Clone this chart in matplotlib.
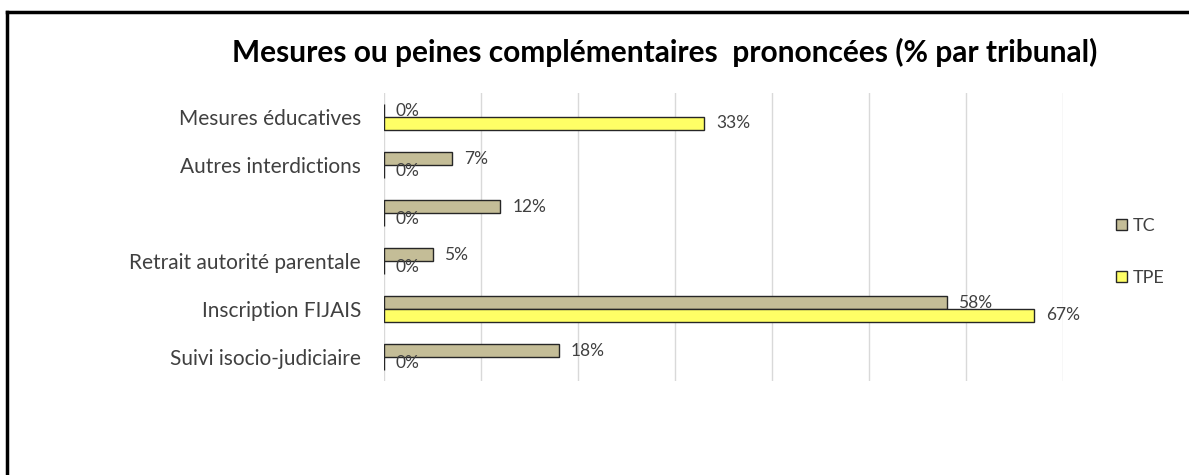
import matplotlib.pyplot as plt
from matplotlib.patches import Patch
import numpy as np

plt.rcParams['font.family'] = ['Lato', 'DejaVu Sans']

# Data
categories = ['Mesures éducatives', 'Autres interdictions', '', 'Retrait autorité parentale',
              'Inscription FIJAIS', 'Suivi isocio-judiciaire']
tc_values = [0, 7, 12, 5, 58, 18]
tpe_values = [33, 0, 0, 0, 67, 0]
series_names = ['TC', 'TPE']

tc_color = '#c4bd97'
tpe_color = '#ffff66'
text_color = '#404040'

fig = plt.figure(figsize=(11.89, 4.75), dpi=100)
ax = fig.add_axes([384 / 1189, 1 - 381 / 475, (1063 - 384) / 1189, (381 - 93) / 475])

y = np.arange(len(categories))
h = 0.27
bars_tc = ax.barh(y - h / 2, tc_values, height=h, color=tc_color, edgecolor='#262626', linewidth=1)
bars_tpe = ax.barh(y + h / 2, tpe_values, height=h, color=tpe_color, edgecolor='#262626', linewidth=1)

# value labels to the right of each bar
for bars, vals in [(bars_tc, tc_values), (bars_tpe, tpe_values)]:
    for b, v in zip(bars, vals):
        ax.annotate(f'{v}%', (b.get_width(), b.get_y() + b.get_height() / 2),
                    xytext=(8.5, 0), textcoords='offset points', va='center', ha='left',
                    fontsize=12.5, color=text_color)

ax.set_xlim(0, 70)
ax.set_ylim(len(categories) - 0.5, -0.5)
ax.set_xticks(range(0, 71, 10))
ax.set_xticklabels([])
ax.tick_params(axis='x', length=0)
ax.tick_params(axis='y', length=0, pad=16.5, labelsize=15, labelcolor=text_color)
ax.set_yticks(y)
ax.set_yticklabels(categories)
ax.grid(axis='x', color='#d9d9d9', linewidth=1)
ax.set_axisbelow(True)
for s in ax.spines.values():
    s.set_visible(False)

fig.text(665 / 1189, 1 - 52 / 475, 'Mesures ou peines complémentaires  prononcées (% par tribunal)',
         ha='center', va='center', fontsize=21.5, fontweight='bold', color='black')

handles = [Patch(facecolor=tc_color, edgecolor='#262626'), Patch(facecolor=tpe_color, edgecolor='#262626')]
fig.legend(handles, series_names, loc='center left', bbox_to_anchor=(1100 / 1189, 1 - 252 / 475),
           frameon=False, handlelength=0.6, handleheight=0.6, handletextpad=0.3,
           labelspacing=2.0, fontsize=13, labelcolor=text_color)

# outer frame (top and left edges visible)
fig.add_artist(plt.Line2D([7 / 1189, 7 / 1189], [0, 1 - 12 / 475], transform=fig.transFigure,
                          color='black', linewidth=2.5))
fig.add_artist(plt.Line2D([7 / 1189, 1], [1 - 12 / 475, 1 - 12 / 475], transform=fig.transFigure,
                          color='black', linewidth=2.5))

fig.savefig('out.png', dpi=100)
